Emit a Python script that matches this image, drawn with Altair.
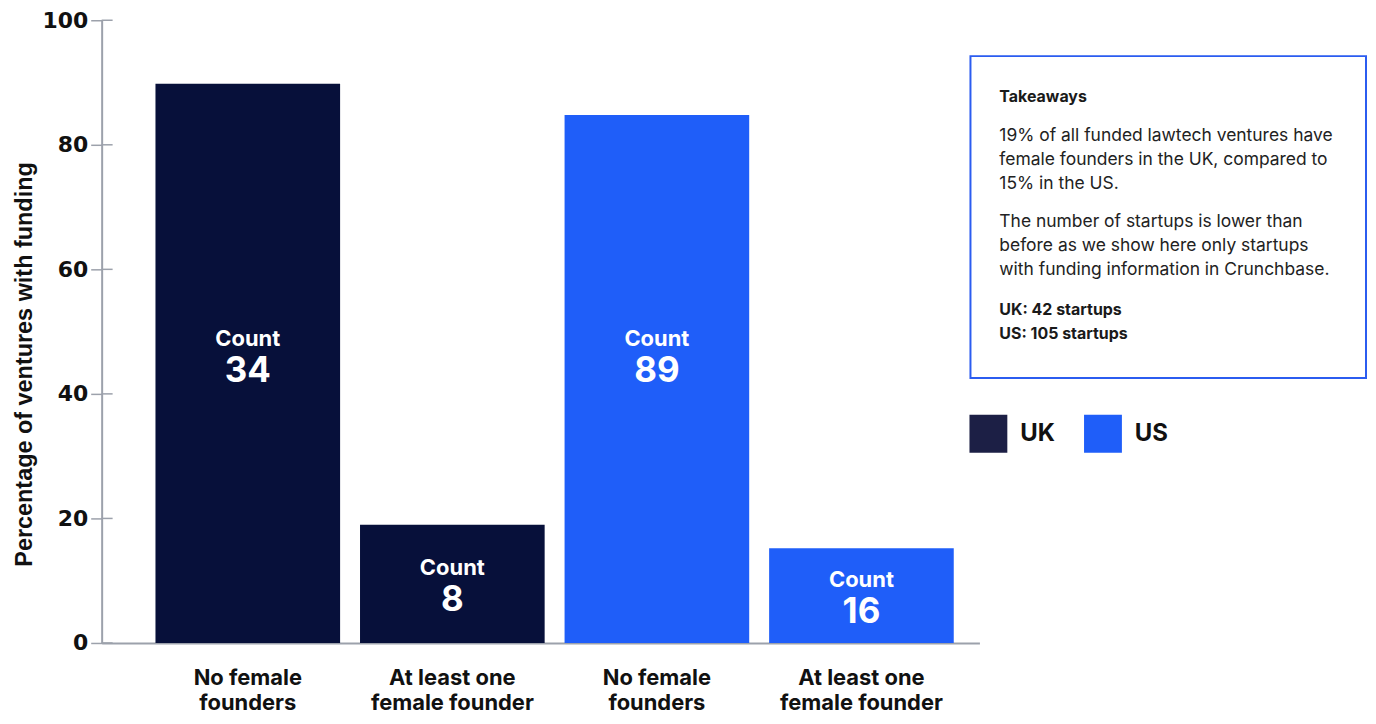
import altair as alt
import pandas as pd

# ---- data ----
COUNTRIES = ["UK", "UK", "US", "US"]
CATEGORY_LINES = [["No female", "founders"], ["At least one", "female founder"],
                  ["No female", "founders"], ["At least one", "female founder"]]
PERCENT = [89.8, 19.0, 84.8, 15.2]
COUNTS = [34, 8, 89, 16]
Y_TICKS = [0, 20, 40, 60, 80, 100]
Y_TITLE = "Percentage of ventures with funding"

LEGEND_NAMES = ["UK", "US"]
BAR_COLORS = ["#07103a", "#1f5ef9"]
LEGEND_COLORS = ["#1c1f45", "#1f5ef9"]

BOX_TITLE = "Takeaways"
BOX_P1 = ["19% of all funded lawtech ventures have",
          "female founders in the UK, compared to",
          "15% in the US."]
BOX_P2 = ["The number of startups is lower than",
          "before as we show here only startups",
          "with funding information in Crunchbase."]
BOX_P3 = ["UK: 42 startups", "US: 105 startups"]

GRAY = "#9ca1ab"
FONT = "Inter"

df = pd.DataFrame({
    "country": COUNTRIES,
    "key": [c + "|" + "~".join(l) for c, l in zip(COUNTRIES, CATEGORY_LINES)],
    "pct": PERCENT,
    "count": [str(c) for c in COUNTS],
})
key_order = list(df["key"])

x = alt.X("key:N", sort=key_order,
          scale=alt.Scale(paddingInner=0.0974, paddingOuter=0.1943, align=0.677),
          axis=alt.Axis(title=None, labelAngle=0, ticks=False, domainColor=GRAY,
                        domainWidth=2, labelFontSize=22, labelFontWeight="bold",
                        labelColor="#111111", labelPadding=35, labelLineHeight=25,
                        labelBaseline="middle",
                        labelExpr="split(split(datum.label, '|')[1], '~')"))
y = alt.Y("pct:Q", scale=alt.Scale(domain=[0, 100], nice=False),
          axis=alt.Axis(values=Y_TICKS, grid=False, title=Y_TITLE, titleFontSize=23.5,
                        titleFont="Liberation Sans",
                        titleFontWeight="bold", titleColor="#111111",
                        titleX=-77, titleY=345, titleAngle=270, titleAlign="center",
                        titleBaseline="middle",
                        labelFont="DejaVu Sans",
                        labelFontSize=22, labelFontWeight="bold", labelColor="#111111",
                        labelPadding=3, tickSize=11, tickColor=GRAY, tickWidth=1.5,
                        domainColor=GRAY, domainWidth=2))

bars = alt.Chart(df).mark_bar().encode(
    x=x, y=y,
    color=alt.Color("country:N", scale=alt.Scale(domain=LEGEND_NAMES, range=BAR_COLORS),
                    legend=None),
)

label_base = alt.Chart(df).transform_calculate(
    mid="datum.pct < 40 ? datum.pct / 2 : 46.2"
)
count_word = label_base.mark_text(text="Count", color="white", fontSize=22,
                                  fontWeight="bold", baseline="middle", dy=-16).encode(
    x=alt.X("key:N", sort=key_order), y=alt.Y("mid:Q"))
count_num = label_base.mark_text(color="white", fontSize=35, fontWeight="bold",
                                 baseline="middle", dy=16).encode(
    x=alt.X("key:N", sort=key_order), y=alt.Y("mid:Q"), text="count:N")

ticks_df = pd.DataFrame({"t": Y_TICKS})
inner_ticks = alt.Chart(ticks_df).mark_rule(color=GRAY, strokeWidth=1.5).encode(
    x=alt.value(0), x2=alt.value(11), y=alt.Y("t:Q"))

legend_df = pd.DataFrame({"country": LEGEND_NAMES})
legend_layer = alt.Chart(legend_df).mark_square(filled=True, size=0, opacity=0).encode(
    color=alt.Color("country:N",
                    scale=alt.Scale(domain=LEGEND_NAMES, range=LEGEND_COLORS),
                    legend=alt.Legend(title=None, orient="none", legendX=871, legendY=396,
                                      direction="horizontal", symbolType="square",
                                      symbolSize=1444, symbolOpacity=1,
                                      symbolStrokeWidth=0, labelFontSize=24,
                                      labelFontWeight="bold", labelColor="#111111",
                                      labelOffset=13, columnPadding=29, padding=0))
)

one = pd.DataFrame({"k": [0]})
box = alt.Chart(one).mark_rect(fill="white", stroke="#2b5cf0", strokeWidth=2).encode(
    x=alt.value(872), x2=alt.value(1269), y=alt.value(36), y2=alt.value(359))
box_title = alt.Chart(one).mark_text(text=BOX_TITLE, fontSize=16, fontWeight="bold",
                                     color="#1a1a1a", align="left",
                                     baseline="middle").encode(
    x=alt.value(901), y=alt.value(77))
box_p1 = alt.Chart(one).mark_text(text=BOX_P1, fontSize=17.5, color="#222222",
                                  align="left", baseline="middle", lineHeight=24).encode(
    x=alt.value(901), y=alt.value(116))
box_p2 = alt.Chart(one).mark_text(text=BOX_P2, fontSize=17.5, color="#222222",
                                  align="left", baseline="middle", lineHeight=24).encode(
    x=alt.value(901), y=alt.value(203))
box_p3 = alt.Chart(one).mark_text(text=BOX_P3, fontSize=16, fontWeight="bold",
                                  color="#1a1a1a", align="left", baseline="middle",
                                  lineHeight=24).encode(
    x=alt.value(901), y=alt.value(291))

chart = alt.layer(
    bars, count_word, count_num, inner_ticks, legend_layer,
    box, box_title, box_p1, box_p2, box_p3
).resolve_scale(color="independent").properties(
    width=881, height=625,
    autosize=alt.AutoSizeParams(type="none"),
    padding={"left": 94, "top": 11, "right": 390, "bottom": 72},
).configure(font=FONT, background="white").configure_view(stroke=None)

chart.save("out.html", embed_options={"renderer": "svg", "actions": False})
